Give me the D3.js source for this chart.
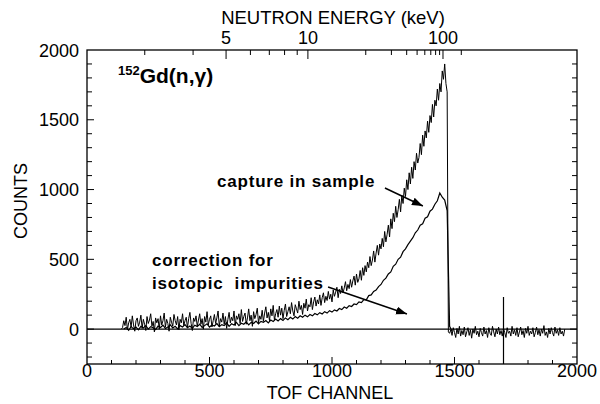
<!DOCTYPE html>
<html><head><meta charset="utf-8">
<script src="https://cdn.jsdelivr.net/npm/d3@7"></script>
<style>
html,body{margin:0;padding:0;background:#fff;}
svg{display:block;font-family:"Liberation Sans",Arial,Helvetica,sans-serif;}
</style></head><body>
<svg id="chart" width="600" height="404"></svg>
<script>
// Time-of-flight spectrum for 152Gd(n,γ): counts per TOF channel
const channelTicks = [0, 500, 1000, 1500, 2000];
const countTicks = [0, 500, 1000, 1500, 2000];
const energyTicks = [3, 4, 5, 6, 7, 8, 9, 10, 20, 30, 40, 50, 60, 70, 80, 90, 100, 200];
const energyLabels = [5, 10, 100];
const energyMajor = [5, 10, 100];
// energy calibration: channel = tofZero - flightConst / sqrt(E[keV])
const tofZero = 1708, flightConst = 2550;

// capture in sample, channels 140..1950 every 5
const captureStart = 140, captureStep = 5;
const captureCounts = [
  0, 10, 60, 25, 85, -5, 45, 70, 15, 95,
  30, -15, 60, 80, 20, 50, 100, 5, 70, 35,
  -10, 90, 40, 65, 110, 20, 55, -20, 80, 45,
  75, 0, 95, 30, 60, 115, 15, 70, 40, -15,
  85, 50, 20, 105, 60, 30, 90, -5, 70, 45,
  110, 25, 60, 85, 10, 75, 120, 40, -10, 80,
  55, 95, 20, 65, 110, 35, 75, 0, 90, 50,
  125, 30, 70, 95, 15, 60, 105, 40, 80, 130,
  20, 75, 50, 115, 35, 90, 5, 70, 120, 45,
  85, 60, 130, 25, 95, 70, 110, 40, 140, 55,
  90, 115, 35, 80, 145, 60, 100, 20, 125, 75,
  105, 150, 45, 95, 70, 135, 55, 115, 160, 80,
  120, 60, 145, 95, 170, 65, 110, 140, 85, 165,
  100, 150, 75, 135, 180, 90, 125, 160, 110, 190,
  130, 95, 175, 145, 115, 200, 140, 170, 105, 185,
  150, 215, 130, 175, 160, 225, 140, 195, 230, 165,
  210, 180, 245, 170, 225, 260, 190, 235, 205, 270,
  215, 250, 195, 280, 235, 265, 300, 225, 285, 255,
  310, 260, 295, 340, 275, 320, 290, 355, 300, 345,
  380, 315, 395, 335, 360, 420, 350, 440, 385, 455,
  410, 480, 440, 520, 455, 495, 560, 480, 545, 600,
  530, 610, 575, 650, 590, 700, 625, 680, 745, 660,
  790, 720, 830, 770, 880, 800, 855, 930, 840, 960,
  900, 1010, 950, 1070, 1000, 1120, 1040, 1160, 1080, 1200,
  1140, 1260, 1190, 1230, 1330, 1250, 1390, 1310, 1420, 1370,
  1490, 1410, 1530, 1480, 1610, 1520, 1640, 1600, 1720, 1640,
  1760, 1700, 1850, 1790, 1900, 1760, 1700, -20,
  -30, -5, -45, 10, -25, -60, 5, -35, 20, -50,
  -10, -40, 15, -55, -20, 10, -45, -5, -65, 0,
  -30, 20, -40, -15, -55, 5, -25, -50, 15, -35,
  -10, -60, 10, -30, -45, 20, -20, -55, 0, -35,
  15, -40, -10, -50, 5, -25, -60, 10, -30, -15,
  -50, 20, -35, -5, -45, 10, -55, -20, 15, -40,
  -10, -60, 5, -30, 20, -45, -15, -35, 10, -55,
  -25, 15, -40, -5, -50, 0, -30, 25, -45, -20,
  -60, 5, -35, 10, -25, -50, 15, -30, -5, -45,
  10, -35, -15, -50, 0
];
// correction for isotopic impurities, channels 150..1490 every 10
const correctionStart = 150, correctionStep = 10;
const correctionCounts = [
  0, 12, -8, 18, 2, 15, -5, 20, 8, 25,
  0, 18, 10, -3, 22, 12, 28, 5, 15, 30,
  8, 20, 2, 25, 15, 32, 10, 22, 5, 28,
  18, 35, 12, 25, 38, 15, 30, 22, 40, 18,
  32, 25, 45, 20, 38, 30, 48, 25, 42, 35,
  52, 30, 48, 40, 58, 38, 55, 48, 62, 45,
  65, 55, 72, 58, 75, 62, 80, 68, 85, 72,
  90, 78, 95, 85, 100, 88, 105, 95, 112, 102,
  118, 108, 125, 115, 132, 122, 138, 130, 148, 140,
  158, 150, 168, 162, 180, 175, 195, 190, 212, 210,
  240, 245, 270, 280, 305, 320, 350, 365, 395, 410,
  450, 465, 500, 515, 555, 575, 605, 630, 655, 690,
  710, 745, 755, 795, 805, 845, 860, 895, 920, 975,
  945, 925, 850, 20, -15
];
// gamma-flash spike
const flashChannel = 1700;
const flashRange = [-250, 230];

const svg = d3.select("#chart");
const x = d3.scaleLinear().domain([0, 2000]).range([87, 577]);
const y = d3.scaleLinear().domain([-250, 2000]).range([364, 50]);
const chOfE = e => tofZero - flightConst / Math.sqrt(e);

const capture = captureCounts.map((v, i) => [captureStart + i * captureStep, v]);
const correction = correctionCounts.map((v, i) => [correctionStart + i * correctionStep, v]);

const line = d3.line().x(d => x(d[0])).y(d => y(d[1]));

// zero line
svg.append("line")
  .attr("x1", x(0)).attr("x2", x(2000))
  .attr("y1", y(0)).attr("y2", y(0))
  .attr("stroke", "#000").attr("stroke-width", 1.3);

svg.append("path").datum(correction)
  .attr("d", line).attr("fill", "none")
  .attr("stroke", "#000").attr("stroke-width", 1.2);
svg.append("path").datum(capture)
  .attr("d", line).attr("fill", "none")
  .attr("stroke", "#000").attr("stroke-width", 1);

svg.append("line")
  .attr("x1", x(flashChannel)).attr("x2", x(flashChannel))
  .attr("y1", y(flashRange[0])).attr("y2", y(flashRange[1]))
  .attr("stroke", "#000").attr("stroke-width", 1.2);

// frame
svg.append("rect")
  .attr("x", x(0)).attr("y", y(2000))
  .attr("width", x(2000) - x(0)).attr("height", y(-250) - y(2000))
  .attr("fill", "none").attr("stroke", "#000").attr("stroke-width", 1.3);

const ticks = svg.append("g").attr("stroke", "#000").attr("stroke-width", 1);
// channel ticks (bottom, inward)
const chMinor = d3.range(100, 2000, 100);
ticks.selectAll(".xb").data(chMinor).join("line")
  .attr("x1", d => x(d)).attr("x2", d => x(d))
  .attr("y1", y(-250)).attr("y2", d => y(-250) - (d % 500 === 0 ? 7 : 4));
// count ticks (left and right, inward)
const cMinor = d3.range(-200, 2000, 100);
ticks.selectAll(".yl").data(cMinor).join("line")
  .attr("x1", x(0)).attr("x2", d => x(0) + (d % 500 === 0 ? 7 : 5))
  .attr("y1", d => y(d)).attr("y2", d => y(d));
ticks.selectAll(".yr").data(cMinor).join("line")
  .attr("x1", x(2000)).attr("x2", d => x(2000) - (d % 500 === 0 ? 7 : 5))
  .attr("y1", d => y(d)).attr("y2", d => y(d));
// energy ticks (top, inward)
ticks.selectAll(".et").data(energyTicks).join("line")
  .attr("x1", d => x(chOfE(d))).attr("x2", d => x(chOfE(d)))
  .attr("y1", y(2000)).attr("y2", d => y(2000) + (energyMajor.includes(d) ? 9 : 5));

const txt = svg.append("g").attr("fill", "#000").attr("font-size", 18);
txt.selectAll(".xl").data(channelTicks).join("text")
  .attr("x", d => x(d)).attr("y", 377).attr("text-anchor", "middle").text(d => d);
txt.selectAll(".yl").data(countTicks).join("text")
  .attr("x", 79).attr("y", d => y(d) + 6.5).attr("text-anchor", "end").text(d => d);
txt.selectAll(".el").data(energyLabels).join("text")
  .attr("x", d => x(chOfE(d))).attr("y", 44).attr("text-anchor", "middle").text(d => d);

txt.append("text").attr("x", 330).attr("y", 398.5).attr("text-anchor", "middle").text("TOF CHANNEL");
txt.append("text").attr("x", 333).attr("y", 24).attr("text-anchor", "middle")
  .attr("font-size", 18.5).text("NEUTRON ENERGY (keV)");
txt.append("text").attr("transform", "translate(27,201) rotate(-90)")
  .attr("text-anchor", "middle").text("COUNTS");

// reaction label
const title = svg.append("text").attr("x", 118).attr("y", 83)
  .attr("font-weight", "bold").attr("font-size", 21);
title.append("tspan").attr("font-size", 13).attr("dy", -8).text("152");
title.append("tspan").attr("dy", 8).text("Gd(n,γ)");

// annotations
const notes = svg.append("g").attr("font-weight", "bold").attr("font-size", 17)
  .attr("letter-spacing", 0.8);
notes.append("text").attr("x", 217).attr("y", 187).text("capture in sample");
notes.append("text").attr("x", 152).attr("y", 266).text("correction for");
notes.append("text").attr("x", 152).attr("y", 289).attr("xml:space", "preserve").text("isotopic  impurities");

svg.append("defs").append("marker")
  .attr("id", "head").attr("markerUnits", "userSpaceOnUse")
  .attr("markerWidth", 12).attr("markerHeight", 10)
  .attr("refX", 11).attr("refY", 4).attr("orient", "auto")
  .append("path").attr("d", "M0,0 L11,4 L0,8 Z").attr("fill", "#000");

const arrows = [
  { from: [1216, 1011], to: [1371, 882] },
  { from: [984, 302], to: [1306, 108] }
];
svg.selectAll(".arrow").data(arrows).join("line")
  .attr("x1", d => x(d.from[0])).attr("y1", d => y(d.from[1]))
  .attr("x2", d => x(d.to[0])).attr("y2", d => y(d.to[1]))
  .attr("stroke", "#000").attr("stroke-width", 1.5)
  .attr("marker-end", "url(#head)");
</script>
</body></html>
